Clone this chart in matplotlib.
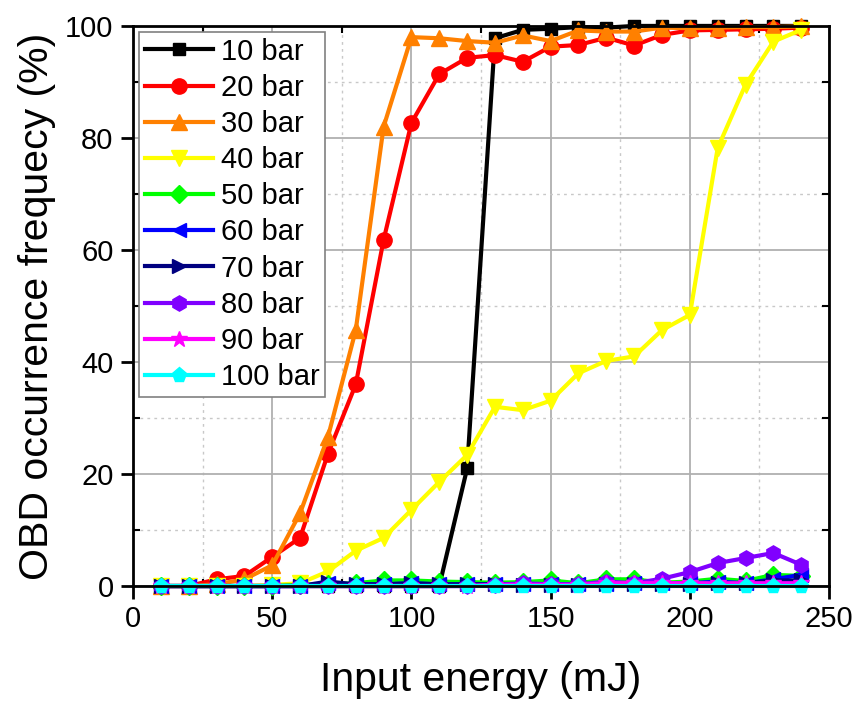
import matplotlib
matplotlib.use("Agg")
import matplotlib.pyplot as plt
from matplotlib.ticker import MultipleLocator

plt.rcParams['font.family'] = ['Liberation Sans', 'DejaVu Sans']

# Input energy (mJ)
energy = [10, 20, 30, 40, 50, 60, 70, 80, 90, 100, 110, 120,
          130, 140, 150, 160, 170, 180, 190, 200, 210, 220, 230, 240]

labels = ["10 bar", "20 bar", "30 bar", "40 bar", "50 bar",
          "60 bar", "70 bar", "80 bar", "90 bar", "100 bar"]

# OBD occurrence frequency (%) per pressure
bar10 = [0, 0, 0, 0, 0, 0, 0, 0, 0, 0, 0, 21.0,
         97.8, 99.3, 99.5, 99.8, 99.7, 100, 100, 100, 100, 100, 100, 100]
bar20 = [0, 0, 1.2, 1.8, 5.2, 8.6, 23.6, 36.0, 61.8, 82.7, 91.4, 94.3,
         94.8, 93.6, 96.3, 96.6, 97.9, 96.5, 98.4, 99.2, 99.3, 99.4, 99.5, 99.7]
bar30 = [0, 0, 0.3, 1.2, 3.7, 13.0, 26.6, 45.7, 82.0, 98.0, 97.8, 97.3,
         97.0, 98.3, 97.3, 99.2, 99.0, 99.0, 99.7, 99.6, 99.7, 99.8, 99.8, 99.9]
bar40 = [0, 0, 0, 0, 0.2, 0.5, 2.6, 6.3, 8.6, 13.6, 18.6, 23.4,
         32.0, 31.4, 33.1, 38.0, 40.2, 41.0, 45.7, 48.4, 78.2, 89.5, 97.2, 99.3]
bar50 = [0, 0, 0, 0, 0, 0.2, 0.3, 0.5, 1.0, 1.0, 0.8, 0.7,
         0.6, 0.7, 1.0, 0.5, 1.2, 1.2, 0.6, 0.8, 1.3, 0.9, 2.0, 1.8]
bar60 = [0, 0, 0, 0, 0, 0, 0.5, 0.3, 0.3, 0.5, 0.3, 0.3,
         0.3, 0.3, 0.3, 0.3, 0.3, 0.5, 0.5, 0.5, 0.8, 0.5, 1.2, 2.0]
bar70 = [0, 0, 0, 0, 0, 0, 0.8, 0.3, 0.3, 0.5, 0.3, 0.3,
         0.3, 0.2, 0.2, 0.2, 0.3, 0.3, 0.3, 0.3, 0.5, 0.5, 1.0, 1.0]
bar80 = [0, 0, 0, 0, 0, 0, 0, 0, 0, 0, 0, 0,
         0.2, 0.5, 0.3, 0.3, 0.8, 0.5, 1.3, 2.5, 4.1, 5.0, 5.9, 3.8]
bar90 = [0, 0, 0, 0, 0, 0, 0, 0, 0, 0, 0, 0,
         0.2, 0.2, 0.2, 0.2, 0.5, 0.5, 0.5, 0.5, 0.5, 0.5, 0.5, 0.5]
bar100 = [0] * 24

series = [bar10, bar20, bar30, bar40, bar50, bar60, bar70, bar80, bar90, bar100]
colors = ["#000000", "#FF0000", "#FF8000", "#FFFF00", "#00FF00",
          "#0000FF", "#000080", "#8000FF", "#FF00FF", "#00FFFF"]
markers = ["s", "o", "^", "v", "D", "<", ">", "h", "*", "p"]
msizes = [9, 11, 11, 11, 9, 10, 10, 11, 12, 11]

fig = plt.figure(figsize=(8.6, 7.01), dpi=100)
ax = fig.add_axes([0.1547, 0.164, 0.8093, 0.799])

for i, (vals, lab) in enumerate(zip(series, labels)):
    ax.plot(energy, vals, color=colors[i], marker=markers[i],
            markersize=msizes[i], linewidth=3.0, label=lab,
            clip_on=False, zorder=3 + i)

ax.set_xlim(0, 250)
ax.set_ylim(0, 100)
ax.xaxis.set_major_locator(MultipleLocator(50))
ax.xaxis.set_minor_locator(MultipleLocator(25))
ax.yaxis.set_major_locator(MultipleLocator(20))
ax.yaxis.set_minor_locator(MultipleLocator(10))

ax.grid(which='major', color='#b0b0b0', linewidth=1.3, linestyle='-')
ax.grid(which='minor', color='#c8c8c8', linewidth=1.0, linestyle=(0, (2, 3)))
ax.set_axisbelow(True)

for sp in ax.spines.values():
    sp.set_linewidth(2.0)
    sp.set_zorder(20)

ax.tick_params(which='major', direction='out', length=9, width=2,
               labelsize=21, pad=5, top=False, right=False)
ax.tick_params(which='minor', direction='in', length=5, width=1.5,
               top=True, right=True)

ax.set_xlabel("Input energy (mJ)", fontsize=29.5, labelpad=20)
ax.set_ylabel("OBD occurrence frequecy (%)", fontsize=29.5, labelpad=7)

leg = ax.legend(loc='upper left', fontsize=21, frameon=True, fancybox=False,
                edgecolor='#808080', framealpha=1, borderpad=0.2,
                labelspacing=0.28, handlelength=2.35, handletextpad=0.25,
                borderaxespad=0.2)
leg.get_frame().set_linewidth(1.2)
leg.set_zorder(30)

fig.savefig("out.png", dpi=100)
